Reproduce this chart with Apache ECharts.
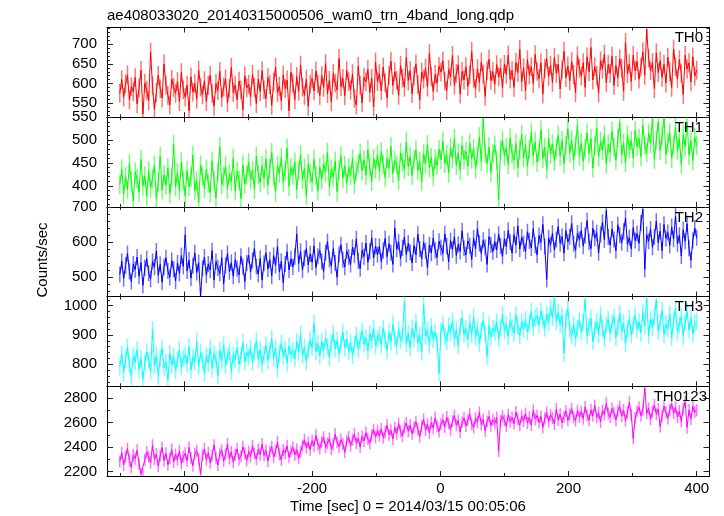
<!DOCTYPE html>
<html>
<head>
<meta charset="utf-8">
<script src="https://cdn.jsdelivr.net/npm/echarts@6/dist/echarts.min.js"></script>
<style>
html,body{margin:0;padding:0;background:#fff;}
#chart{width:724px;height:516px;}
</style>
</head>
<body>
<div id="chart"></div>
<script>
const chartTitle = "ae408033020_20140315000506_wam0_trn_4band_long.qdp";
const xTitle = "Time [sec] 0 = 2014/03/15 00:05:06";
const yTitle = "Counts/sec";
const panelNames = ["TH0", "TH1", "TH2", "TH3", "TH0123"];
const tStart = -500, tStep = 3;

const th0 = [
575,610,565,599,622,558,592,579,615,548,589,634,522,601,582,
556,680,594,534,577,621,587,563,650,596,570,545,611,590,575,
605,554,628,584,565,596,530,617,578,600,560,634,591,571,607,
554,595,621,575,542,600,582,631,564,591,612,551,588,641,577,
596,558,606,584,533,620,589,598,566,623,590,549,611,579,633,
584,562,615,597,544,604,642,577,593,555,622,587,609,530,629,
600,559,618,580,647,591,570,611,542,598,613,581,632,599,569,
620,590,651,574,608,553,626,601,583,664,592,613,569,633,605,
584,625,562,545,644,595,551,616,604,636,577,613,540,655,605,
625,581,642,602,563,621,657,595,630,608,570,646,614,590,667,
607,633,574,619,650,598,558,629,611,640,591,677,618,580,623,
601,644,629,658,606,582,636,617,672,595,626,648,573,631,609,
643,592,622,682,613,587,638,603,655,624,567,633,662,608,630,
598,648,617,640,588,649,624,673,611,633,590,654,628,687,604,
640,582,661,622,643,600,674,631,612,653,573,638,664,618,647,
603,667,626,650,586,635,682,615,645,607,656,623,577,671,639,
619,653,590,668,630,692,609,643,621,576,658,637,675,602,649,
626,670,595,646,615,663,639,580,705,625,650,605,672,632,657,
611,642,681,621,738,665,633,653,587,678,628,658,616,649,601,
667,630,590,688,643,612,661,625,572,672,637,653,604,668,619,
634];

const th1 = [
403,437,382,420,392,448,409,368,430,415,386,458,400,422,378,
433,395,416,445,372,408,464,391,424,402,439,383,418,490,398,
429,389,452,411,378,433,398,419,467,390,411,364,445,422,394,
436,406,385,454,413,373,430,485,403,420,443,393,426,409,460,
389,432,412,372,446,404,424,451,414,434,392,465,425,407,444,
416,459,401,438,473,422,387,444,427,462,408,434,482,399,440,
424,452,392,433,468,414,438,379,448,426,408,458,422,389,441,
413,448,430,473,398,437,419,454,387,435,465,417,444,405,440,
423,460,404,432,447,471,433,457,423,479,441,410,460,437,467,
432,475,446,418,460,438,486,427,455,445,412,472,451,436,496,
442,464,423,457,478,434,453,409,470,448,490,439,462,421,459,
445,480,457,497,449,468,428,483,460,503,445,472,434,489,458,
475,443,493,459,481,437,467,507,453,548,473,449,485,429,470,
489,456,369,479,499,465,483,447,505,471,456,493,439,478,512,
461,490,443,480,516,466,496,452,474,522,460,484,436,504,470,
492,454,482,510,465,499,448,488,525,472,500,456,489,532,465,
494,454,482,516,471,503,439,487,526,463,497,478,511,448,491,
473,519,485,456,504,539,468,493,451,511,480,499,461,521,486,
504,464,533,488,472,515,493,547,458,500,540,477,508,549,468,
495,516,460,489,527,478,503,447,512,485,540,467,499,455,506,
488];

const th2 = [
507,545,495,533,567,516,487,537,521,557,502,541,476,526,552,
511,494,544,528,574,505,536,485,529,555,517,499,547,522,489,
540,510,561,530,620,517,548,497,532,569,513,541,446,525,557,
505,537,520,575,491,544,526,510,555,480,533,567,515,541,502,
549,524,506,559,530,487,540,562,515,547,581,530,508,553,491,
539,569,523,549,503,561,533,587,514,545,483,537,572,520,552,
529,558,622,538,573,520,554,581,535,566,542,589,527,559,576,
544,516,569,601,550,532,581,540,499,565,592,549,528,574,557,
536,585,562,609,546,524,576,558,597,542,573,612,554,588,564,
587,544,576,610,558,595,569,536,640,579,600,553,583,614,564,
596,571,540,590,563,622,580,552,599,575,527,592,568,611,576,
556,602,584,567,623,588,543,604,578,615,561,593,573,632,582,
563,603,589,550,611,580,638,596,567,605,585,536,615,592,572,
601,577,622,589,559,609,587,633,599,568,621,591,646,580,614,
595,573,629,603,583,638,591,563,618,599,650,587,493,611,592,
625,577,607,644,596,615,568,632,600,615,653,595,576,625,607,
633,588,618,661,600,581,639,611,626,569,621,656,606,690,614,
591,637,607,575,649,619,598,630,668,594,612,580,641,604,624,
596,654,693,522,621,602,637,585,614,659,598,631,575,650,610,
627,590,643,608,674,595,619,560,635,602,652,582,548,604,640,
612];

const th3 = [
792,835,772,817,858,800,758,827,809,850,781,820,749,805,843,
813,776,918,794,831,759,819,856,788,807,745,837,798,826,779,
815,849,790,820,831,802,860,781,824,809,877,792,841,813,769,
829,804,856,786,837,818,761,848,811,866,795,826,844,776,833,
816,857,800,828,874,808,841,825,856,807,842,880,817,850,799,
832,865,813,846,887,822,855,785,839,873,828,851,804,863,835,
847,818,877,841,904,829,858,809,848,882,857,940,843,871,829,
878,847,890,862,822,873,904,853,882,836,868,910,856,887,844,
875,831,868,900,851,884,914,869,891,845,905,881,922,862,886,
902,866,924,884,847,909,876,937,890,862,918,881,899,1014,870,
906,857,923,888,944,872,899,842,1003,896,915,866,929,885,910,
876,770,914,938,896,877,931,907,949,886,919,864,927,957,902,
922,884,942,901,961,892,926,871,915,950,905,827,933,893,923,
910,945,888,924,970,915,935,894,949,926,907,969,930,898,945,
920,953,910,939,981,927,957,966,934,982,951,923,971,942,993,
959,1026,947,977,936,966,838,955,990,917,899,936,888,922,952,
910,943,1022,896,928,957,878,918,945,902,969,922,887,934,953,
906,939,962,891,927,974,912,941,871,921,956,901,932,967,920,
945,907,978,930,1025,898,954,925,962,1020,913,942,984,902,938,
922,972,890,950,991,911,934,964,895,945,980,917,958,904,941,
947];

const th0123 = [
2283,2354,2254,2323,2389,2291,2235,2335,2306,2375,2263,2181,2172,2298,2360,
2319,2274,2415,2302,2344,2245,2330,2397,2289,2350,2257,2310,2380,2280,2340,
2297,2369,2268,2322,2349,2289,2397,2311,2248,2343,2370,2304,2179,2334,2384,
2297,2354,2272,2331,2415,2313,2255,2345,2375,2288,2341,2425,2305,2361,2278,
2337,2384,2300,2326,2402,2349,2291,2363,2325,2411,2348,2302,2382,2339,2425,
2332,2372,2286,2360,2402,2320,2369,2441,2342,2296,2377,2350,2410,2317,2365,
2398,2337,2380,2310,2358,2414,2459,2395,2438,2378,2452,2409,2496,2424,2388,
2443,2481,2399,2432,2470,2383,2421,2505,2439,2404,2461,2425,2358,2449,2483,
2411,2460,2506,2432,2472,2401,2486,2450,2518,2467,2431,2499,2542,2481,2534,
2492,2548,2477,2521,2577,2501,2538,2466,2559,2510,2591,2530,2490,2561,2597,
2530,2577,2508,2562,2606,2545,2487,2569,2626,2539,2586,2518,2600,2554,2640,
2571,2527,2586,2623,2563,2644,2595,2542,2611,2658,2578,2616,2523,2602,2636,
2573,2619,2668,2589,2559,2633,2605,2681,2584,2625,2533,2608,2649,2577,2620,
2595,2640,2368,2612,2654,2619,2570,2663,2607,2641,2590,2686,2626,2578,2651,
2613,2673,2596,2642,2581,2698,2628,2658,2600,2650,2560,2633,2681,2608,2664,
2637,2589,2710,2621,2669,2599,2648,2694,2617,2665,2712,2643,2616,2696,2648,
2688,2632,2726,2660,2618,2703,2655,2739,2643,2678,2605,2698,2666,2756,2673,
2644,2714,2679,2621,2695,2729,2653,2701,2616,2683,2764,2664,2470,2636,2691,
2725,2656,2704,2880,2674,2716,2628,2689,2743,2668,2710,2567,2651,2734,2685,
2634,2705,2752,2676,2722,2645,2693,2610,2713,2769,2560,2701,2630,2730,2686,
2700];

const seriesValues = [th0, th1, th2, th3, th0123];
const seriesErrors = [24, 21, 23, 29, 49];

const yMins = [514, 354, 444, 725, 2165];
const yMaxs = [743, 550, 700, 1031, 2895];
const yMajorTicks = [[550,600,650,700],[400,450,500,550],[500,600,700],[800,900,1000],[2200,2400,2600,2800]];
const yMinorSteps = [10, 10, 20, 20, 100];

const xMin = -520, xMax = 420;
const xMajorTicks = [-400, -200, 0, 200, 400];
const xMinorTicks = [-500, -300, -100, 100, 300];

const lineColors = ['#ff0000', '#00ff00', '#0000ff', '#00ffff', '#ff00ff'];
const errColors = ['rgba(255,0,0,0.55)', 'rgba(0,255,0,0.55)', 'rgba(0,0,255,0.55)', 'rgba(0,255,255,0.55)', 'rgba(255,0,255,0.55)'];

const FONT = "'Liberation Sans', Arial, sans-serif";
const gridLeft = 107, gridRight = 14.5, gridTop0 = 27.5, gridH = 89.7;

const chart = echarts.init(document.getElementById('chart'), null, {renderer: 'canvas'});

const grids = [], xAxes = [], yAxes = [], series = [], graphics = [];

function minorList(min, max, step, majors) {
  const out = [];
  const start = Math.ceil(min / step) * step;
  for (let v = start; v <= max + 1e-9; v += step) {
    if (majors.indexOf(v) < 0) out.push(v);
  }
  return out;
}
const plainFmt = function (v) { return String(v); };
const tickStyle = {color: '#222', width: 1};

for (let g = 0; g < 5; g++) {
  const top = gridTop0 + g * gridH;
  grids.push({left: gridLeft, right: gridRight, top: top, height: gridH, show: false, containLabel: false, outerBoundsMode: 'none'});
  const isLast = (g === 4);
  const baseX = {type: 'value', gridIndex: g, min: xMin, max: xMax, splitLine: {show: false}};
  xAxes.push(Object.assign({}, baseX, {
    position: 'bottom',
    axisLine: {show: true, onZero: false, lineStyle: {color: '#000', width: 1}},
    axisTick: {show: true, inside: true, length: 5, customValues: xMajorTicks, lineStyle: tickStyle},
    axisLabel: {show: isLast, customValues: xMajorTicks, formatter: plainFmt, color: '#000', fontSize: 15, fontFamily: FONT, margin: 5}
  }));
  xAxes.push(Object.assign({}, baseX, {
    position: 'top',
    axisLine: {show: true, onZero: false, lineStyle: {color: '#000', width: 1}},
    axisTick: {show: true, inside: true, length: 5, customValues: xMajorTicks, lineStyle: tickStyle},
    axisLabel: {show: false}
  }));
  xAxes.push(Object.assign({}, baseX, {
    position: 'bottom',
    axisLine: {show: false, onZero: false},
    axisTick: {show: true, inside: true, length: 3, customValues: xMinorTicks, lineStyle: tickStyle},
    axisLabel: {show: false}
  }));
  xAxes.push(Object.assign({}, baseX, {
    position: 'top',
    axisLine: {show: false, onZero: false},
    axisTick: {show: true, inside: true, length: 3, customValues: xMinorTicks, lineStyle: tickStyle},
    axisLabel: {show: false}
  }));

  const minors = minorList(yMins[g], yMaxs[g], yMinorSteps[g], yMajorTicks[g]);
  const baseY = {type: 'value', gridIndex: g, min: yMins[g], max: yMaxs[g], splitLine: {show: false}};
  yAxes.push(Object.assign({}, baseY, {
    position: 'left',
    axisLine: {show: true, onZero: false, lineStyle: {color: '#000', width: 1}},
    axisTick: {show: true, inside: true, length: 6, customValues: yMajorTicks[g], lineStyle: tickStyle},
    axisLabel: {show: true, customValues: yMajorTicks[g], formatter: plainFmt, color: '#000', fontSize: 15, fontFamily: FONT, margin: 10}
  }));
  yAxes.push(Object.assign({}, baseY, {
    position: 'right',
    axisLine: {show: true, onZero: false, lineStyle: {color: '#000', width: 1}},
    axisTick: {show: true, inside: true, length: 6, customValues: yMajorTicks[g], lineStyle: tickStyle},
    axisLabel: {show: false}
  }));
  yAxes.push(Object.assign({}, baseY, {
    position: 'left',
    axisLine: {show: false, onZero: false},
    axisTick: {show: true, inside: true, length: 3, customValues: minors, lineStyle: tickStyle},
    axisLabel: {show: false}
  }));
  yAxes.push(Object.assign({}, baseY, {
    position: 'right',
    axisLine: {show: false, onZero: false},
    axisTick: {show: true, inside: true, length: 3, customValues: minors, lineStyle: tickStyle},
    axisLabel: {show: false}
  }));

  const vals = seriesValues[g];
  const err = seriesErrors[g];
  const lineData = [], errData = [];
  for (let i = 0; i < vals.length; i++) {
    const t = tStart + i * tStep;
    lineData.push([t, vals[i]]);
    errData.push([t, vals[i], err]);
  }
  const errColor = errColors[g];
  series.push({
    type: 'custom',
    xAxisIndex: g * 4, yAxisIndex: g * 4,
    data: errData,
    encode: {x: 0, y: 1},
    clip: true,
    silent: true,
    animation: false,
    z: 2,
    renderItem: function (params, api) {
      const x = api.value(0), y = api.value(1), e = api.value(2);
      const a = api.coord([x, y - e]);
      const b = api.coord([x, y + e]);
      return {type: 'line', shape: {x1: a[0], y1: a[1], x2: b[0], y2: b[1]}, style: {stroke: errColor, lineWidth: 1.5}};
    }
  });
  series.push({
    type: 'line',
    xAxisIndex: g * 4, yAxisIndex: g * 4,
    data: lineData,
    showSymbol: false,
    symbol: 'none',
    clip: true,
    silent: true,
    animation: false,
    z: 3,
    lineStyle: {color: lineColors[g], width: 1}
  });

  graphics.push({
    type: 'text',
    x: (g === 4) ? 707 : 703,
    y: top + 10.5,
    silent: true,
    z: 10,
    style: {text: panelNames[g], fill: '#000', font: '15px ' + FONT, textAlign: 'right', textVerticalAlign: 'middle'}
  });
}

graphics.push({
  type: 'text', x: 107, y: 15.7, silent: true,
  style: {text: chartTitle, fill: '#000', font: '15px ' + FONT, textAlign: 'left', textVerticalAlign: 'middle'}
});
graphics.push({
  type: 'text', x: 408, y: 506.5, silent: true,
  style: {text: xTitle, fill: '#000', font: '15px ' + FONT, textAlign: 'center', textVerticalAlign: 'middle'}
});
graphics.push({
  type: 'text', x: 42.5, y: 260, rotation: Math.PI / 2, silent: true,
  style: {text: yTitle, fill: '#000', font: '15px ' + FONT, textAlign: 'center', textVerticalAlign: 'middle'}
});

chart.setOption({
  backgroundColor: '#ffffff',
  animation: false,
  grid: grids,
  xAxis: xAxes,
  yAxis: yAxes,
  series: series,
  graphic: graphics
});
</script>
</body>
</html>
